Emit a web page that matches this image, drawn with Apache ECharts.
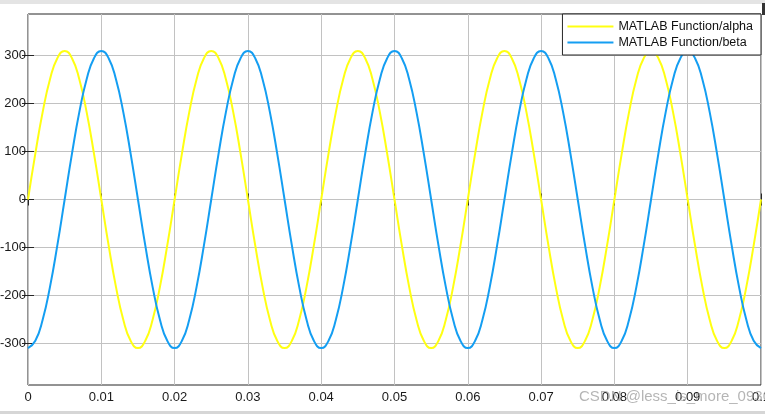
<!DOCTYPE html>
<html>
<head>
<meta charset="utf-8">
<script src="https://cdn.jsdelivr.net/npm/echarts@6/dist/echarts.min.js"></script>
<style>html,body{margin:0;padding:0;background:#fff}#c{width:765px;height:414px}</style>
</head>
<body>
<div id="c"></div>
<script>
// time samples (s)
var timeValues = [
0,0.001,0.002,0.003,0.004,0.005,0.006,0.007,0.008,0.009,
0.01,0.011,0.012,0.013,0.014,0.015,0.016,0.017,0.018,0.019,
0.02,0.021,0.022,0.023,0.024,0.025,0.026,0.027,0.028,0.029,
0.03,0.031,0.032,0.033,0.034,0.035,0.036,0.037,0.038,0.039,
0.04,0.041,0.042,0.043,0.044,0.045,0.046,0.047,0.048,0.049,
0.05,0.051,0.052,0.053,0.054,0.055,0.056,0.057,0.058,0.059,
0.06,0.061,0.062,0.063,0.064,0.065,0.066,0.067,0.068,0.069,
0.07,0.071,0.072,0.073,0.074,0.075,0.076,0.077,0.078,0.079,
0.08,0.081,0.082,0.083,0.084,0.085,0.086,0.087,0.088,0.089,
0.09,0.091,0.092,0.093,0.094,0.095,0.096,0.097,0.098,0.099,
0.1];
// MATLAB Function/alpha
var alphaValues = [
0,95.8,182.2,250.8,294.8,310,294.8,250.8,182.2,95.8,0,-95.8,-182.2,-250.8,-294.8,-310,-294.8,-250.8,-182.2,-95.8,
0,95.8,182.2,250.8,294.8,310,294.8,250.8,182.2,95.8,0,-95.8,-182.2,-250.8,-294.8,-310,-294.8,-250.8,-182.2,-95.8,
0,95.8,182.2,250.8,294.8,310,294.8,250.8,182.2,95.8,0,-95.8,-182.2,-250.8,-294.8,-310,-294.8,-250.8,-182.2,-95.8,
0,95.8,182.2,250.8,294.8,310,294.8,250.8,182.2,95.8,0,-95.8,-182.2,-250.8,-294.8,-310,-294.8,-250.8,-182.2,-95.8,
0,95.8,182.2,250.8,294.8,310,294.8,250.8,182.2,95.8,0,-95.8,-182.2,-250.8,-294.8,-310,-294.8,-250.8,-182.2,-95.8,
0];
// MATLAB Function/beta
var betaValues = [
-310,-294.8,-250.8,-182.2,-95.8,0,95.8,182.2,250.8,294.8,310,294.8,250.8,182.2,95.8,0,-95.8,-182.2,-250.8,-294.8,
-310,-294.8,-250.8,-182.2,-95.8,0,95.8,182.2,250.8,294.8,310,294.8,250.8,182.2,95.8,0,-95.8,-182.2,-250.8,-294.8,
-310,-294.8,-250.8,-182.2,-95.8,0,95.8,182.2,250.8,294.8,310,294.8,250.8,182.2,95.8,0,-95.8,-182.2,-250.8,-294.8,
-310,-294.8,-250.8,-182.2,-95.8,0,95.8,182.2,250.8,294.8,310,294.8,250.8,182.2,95.8,0,-95.8,-182.2,-250.8,-294.8,
-310,-294.8,-250.8,-182.2,-95.8,0,95.8,182.2,250.8,294.8,310,294.8,250.8,182.2,95.8,0,-95.8,-182.2,-250.8,-294.8,
-310];
var yTickValues = [-300, -200, -100, 0, 100, 200, 300];
var seriesNames = ['MATLAB Function/alpha', 'MATLAB Function/beta'];
var watermark = 'CSDN @less_is_more_0930';

function pairs(xs, ys){ var out=[]; for (var i=0;i<xs.length;i++) out.push([xs[i], ys[i]]); return out; }

var FONT = '"Liberation Sans", Arial, sans-serif';
var LINE_ICON = 'path://M0,0H46V2H0Z';
var chart = echarts.init(document.getElementById('c'), null, {renderer:'canvas'});
var xCommon = {
  type:'value', min:0, max:0.1, interval:0.01,
  axisLine:{show:false}, axisTick:{show:true, inside:true, length:6, lineStyle:{color:'#262626'}},
  splitLine:{show:true, lineStyle:{color:'#c2c2c2', width:1}}
};
var yCommon = {
  type:'value', min:-387, max:387, splitNumber:8,
  axisLine:{show:false},
  axisTick:{show:true, inside:true, length:6, customValues:yTickValues, lineStyle:{color:'#262626'}},
  splitLine:{show:true, lineStyle:{color:'#c2c2c2', width:1}}
};
chart.setOption({
  animation:false,
  backgroundColor:'#ffffff',
  grid:{left:28, right:4, top:14, bottom:29, containLabel:false, outerBoundsMode:'none',
    show:true, borderColor:'#262626', borderWidth:1, backgroundColor:'transparent'},
  xAxis:[
    Object.assign({}, xCommon, {position:'bottom',
      axisLabel:{show:true, margin:6, color:'#1a1a1a', fontSize:13, fontFamily:FONT,
        showMaxLabel:true, formatter:function(v){ return String(+v.toFixed(3)); }}}),
    Object.assign({}, xCommon, {position:'top', axisLabel:{show:false}, splitLine:{show:false}})
  ],
  yAxis:[
    Object.assign({}, yCommon, {position:'left',
      axisLabel:{show:true, margin:2, color:'#1a1a1a', fontSize:13, fontFamily:FONT,
        customValues:yTickValues}}),
    Object.assign({}, yCommon, {position:'right', axisLabel:{show:false}, splitLine:{show:false}})
  ],
  legend:{
    show:true, orient:'vertical', right:4, top:14, padding:[6,8,6,5],
    backgroundColor:'#ffffff', borderColor:'#262626', borderWidth:1, borderRadius:0,
    itemWidth:46, itemHeight:14, itemGap:3, symbolKeepAspect:true,
    textStyle:{color:'#111111', fontSize:12.5, fontFamily:FONT},
    data:[{name:seriesNames[0], icon:LINE_ICON}, {name:seriesNames[1], icon:LINE_ICON}]
  },
  graphic:[
    {type:'rect', left:0, top:0, shape:{width:765, height:4}, style:{fill:'#e4e4e4'}, silent:true},
    {type:'rect', left:0, top:411, shape:{width:765, height:3}, style:{fill:'#d6d6d6'}, silent:true},
    {type:'rect', left:762, top:3, shape:{width:3, height:12}, style:{fill:'#333333'}, silent:true},
    {type:'text', left:579, top:389, z:100, style:{text:watermark, fill:'rgba(150,150,150,0.7)', fontSize:15, fontFamily:FONT}, silent:true}
  ],
  series:[
    {name:seriesNames[0], type:'line', data:pairs(timeValues, alphaValues), smooth:0.5, symbol:'none',
      lineStyle:{color:'#ffff12', width:2}, itemStyle:{color:'#ffff12'}, z:2},
    {name:seriesNames[1], type:'line', data:pairs(timeValues, betaValues), smooth:0.5, symbol:'none',
      lineStyle:{color:'#149ef2', width:2}, itemStyle:{color:'#149ef2'}, z:3}
  ]
});
</script>
</body>
</html>
